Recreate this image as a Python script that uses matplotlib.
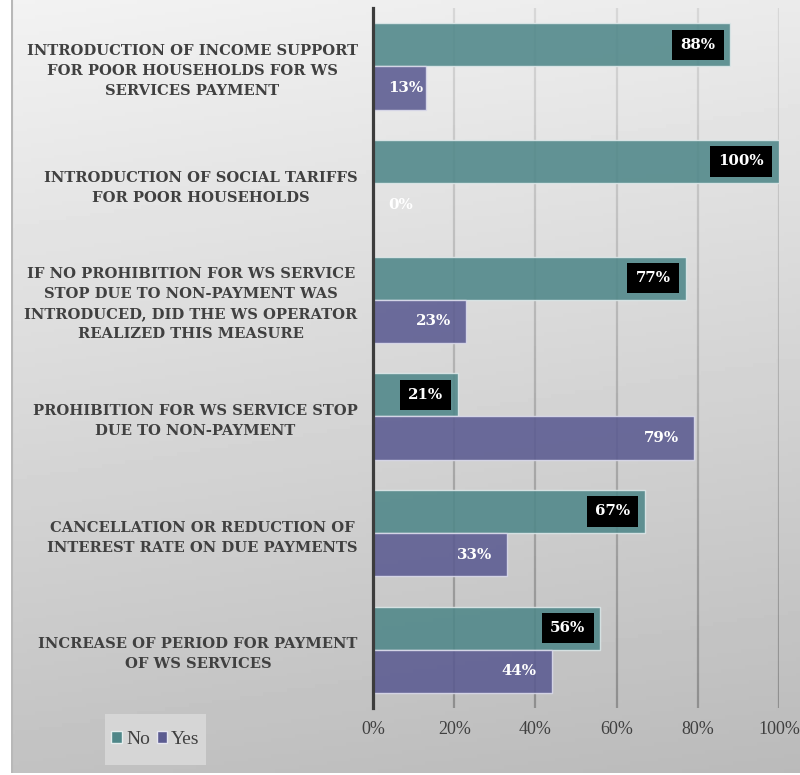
import numpy as np
import matplotlib
matplotlib.use("Agg")
import matplotlib.pyplot as plt
from matplotlib.patches import Patch, Rectangle
from matplotlib.collections import LineCollection
import matplotlib.colors as mcolors

# Survey measures and share of answers
measures = [
    "INTRODUCTION OF INCOME SUPPORT\nFOR POOR HOUSEHOLDS FOR WS\nSERVICES PAYMENT",
    "INTRODUCTION OF SOCIAL TARIFFS\nFOR POOR HOUSEHOLDS",
    "IF NO PROHIBITION FOR WS SERVICE\nSTOP DUE TO NON-PAYMENT WAS\nINTRODUCED, DID THE WS OPERATOR\nREALIZED THIS MEASURE",
    "PROHIBITION FOR WS SERVICE STOP\nDUE TO NON-PAYMENT",
    "CANCELLATION OR REDUCTION OF\nINTEREST RATE ON DUE PAYMENTS",
    "INCREASE OF PERIOD FOR PAYMENT\nOF WS SERVICES",
]
no_pct = [88, 100, 77, 21, 67, 56]
yes_pct = [13, 0, 23, 79, 33, 44]
x_ticks = [0, 20, 40, 60, 80, 100]

TEAL = "#4f8789"
PURPLE = "#5b5b91"
TEXT = "#404040"
SERIF = "Liberation Serif"
BOLD_SERIF = "DejaVu Serif"

fig = plt.figure(figsize=(8, 7.75), dpi=100)
fig.patch.set_facecolor("white")

# shaded chart background
bg = fig.add_axes([11 / 800, 2 / 775, 1 - 11 / 800, 1 - 2 / 775], zorder=-5)
yy, xx = np.mgrid[0:1:200j, 0:1:200j]
shade = 0.95 - 0.19 * yy - 0.03 * xx
bg.imshow(shade, cmap="gray", vmin=0, vmax=1, aspect="auto",
          extent=[0, 1, 0, 1], origin="upper")
bg.set_xlim(0, 1)
bg.set_ylim(0, 1)
bg.axvline(0.0015, color="#b8b8b8", lw=1.5)
bg.axis("off")

ax = fig.add_axes([373 / 800, 1 - 708 / 775, 406 / 800, 700 / 775])
ax.set_facecolor("none")

# vertical gridlines, lighter towards the top
n_seg = 60
ys = np.linspace(0, 1, n_seg + 1)
seg_cols = [mcolors.to_rgba(c) for c in
            plt.cm.gray(np.linspace(0.56, 0.84, n_seg))]
for xt in x_ticks[1:]:
    segs = [[(xt, ys[i]), (xt, ys[i + 1])] for i in range(n_seg)]
    lc = LineCollection(segs, colors=seg_cols, linewidths=1.6,
                        transform=ax.get_xaxis_transform(), zorder=0)
    ax.add_collection(lc)

y = np.arange(len(measures))
h = 0.37
ax.barh(y - h / 2, no_pct, height=h, color=TEAL, alpha=0.88,
        edgecolor="#dfe9ea", linewidth=1.0, zorder=2)
ax.barh(y + h / 2, yes_pct, height=h, color=PURPLE, alpha=0.88,
        edgecolor="#dcdcec", linewidth=1.0, zorder=2)

lab_font = dict(family=BOLD_SERIF, fontsize=10.8, fontweight="bold",
                color="white")
inset = 3.7
for i, v in enumerate(no_pct):
    ax.text(v - inset, y[i] - h / 2, f"{v}%", ha="right", va="center",
            zorder=4, bbox=dict(boxstyle="square,pad=0.55", fc="black", ec="none"),
            **lab_font)
for i, v in enumerate(yes_pct):
    if v < 16:
        ax.text(inset, y[i] + h / 2, f"{v}%", ha="left", va="center",
                zorder=4, **lab_font)
    else:
        ax.text(v - inset, y[i] + h / 2, f"{v}%", ha="right", va="center",
                zorder=4, **lab_font)

ax.set_xlim(0, 100)
ax.set_ylim(len(measures) - 0.5, -0.5)
ax.set_xticks(x_ticks)
ax.set_xticklabels([f"{t}%" for t in x_ticks], family=SERIF, fontsize=13,
                   color=TEXT)
ax.set_yticks(y)
ax.set_yticklabels(measures, family=BOLD_SERIF, fontsize=10.6,
                   fontweight="bold", color=TEXT, multialignment="center",
                   linespacing=1.55)
ax.tick_params(axis="x", length=0, pad=9)
ax.tick_params(axis="y", length=0, pad=11)

for side in ["top", "right", "bottom"]:
    ax.spines[side].set_visible(False)
ax.spines["left"].set_color("#3c3c3c")
ax.spines["left"].set_linewidth(2.3)
ax.spines["left"].set_zorder(5)

# legend panel
fig.patches.append(Rectangle((105 / 800, 1 - 765 / 775), 101 / 800, 51 / 775,
                             transform=fig.transFigure, fc="#d6d6d6",
                             ec="none", zorder=1))
handles = [Patch(fc=TEAL, ec="#e6eeee", lw=1.0, label="No"),
           Patch(fc=PURPLE, ec="#e6e6f0", lw=1.0, label="Yes")]
leg = fig.legend(handles=handles, loc="center", ncol=2,
                 bbox_to_anchor=(155.5 / 800, 1 - 739.5 / 775),
                 prop=dict(family=SERIF, size=14),
                 handlelength=0.55, handleheight=0.55, handletextpad=0.2,
                 columnspacing=0.35, borderpad=0.3, frameon=False)
for t in leg.get_texts():
    t.set_color(TEXT)

fig.savefig("out.png", dpi=100)
